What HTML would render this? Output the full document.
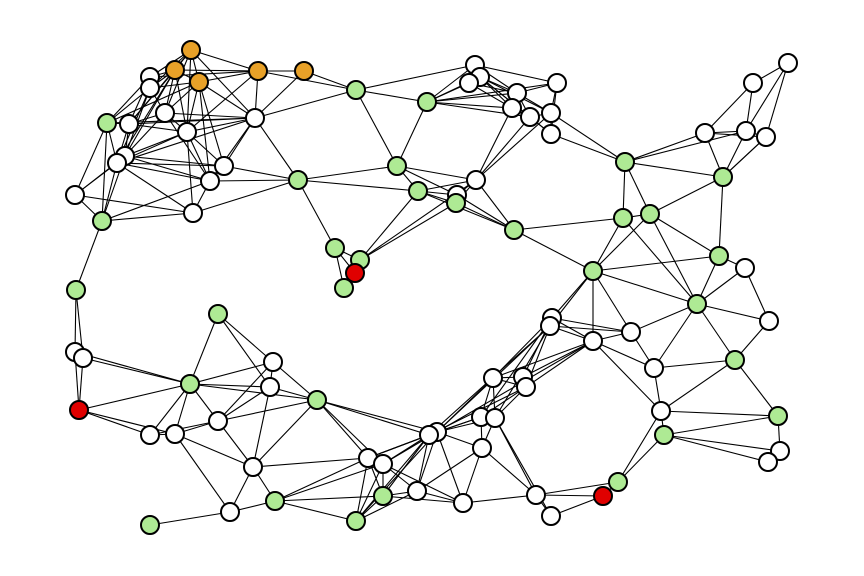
<!DOCTYPE html>
<html><head><meta charset="utf-8"><style>html,body{margin:0;padding:0;background:#fff}svg{display:block}</style></head>
<body>
<svg id="s" width="864" height="576" viewBox="0 0 864 576" xmlns="http://www.w3.org/2000/svg"><g id="e" stroke="#000" stroke-width="1.1"></g><g id="n" stroke="#000" stroke-width="2"></g></svg>
<script>
var N=[[191,50,'o'],[175,70,'o'],[199,82,'o'],[258,71,'o'],[304,71,'o'],[150,77,'w'],[150,88,'w'],[165,113,'w'],[129,124,'w'],[187,132,'w'],[255,118,'w'],[125,156,'w'],[117,163,'w'],[224,166,'w'],[210,181,'w'],[75,195,'w'],[193,213,'w'],[107,123,'g'],[102,221,'g'],[298,180,'g'],[356,90,'g'],[427,102,'g'],[397,166,'g'],[418,191,'g'],[335,248,'g'],[360,260,'g'],[355,273,'r'],[344,288,'g'],[76,290,'g'],
[475,65,'w'],[480,77,'w'],[469,83,'w'],[557,83,'w'],[517,93,'w'],[512,108,'w'],[530,117,'w'],[551,113,'w'],[551,134,'w'],[476,180,'w'],[457,195,'w'],[456,203,'g'],[514,230,'g'],[625,162,'g'],[723,177,'g'],[623,218,'g'],[650,214,'g'],[593,271,'g'],[719,256,'g'],[697,304,'g'],[788,63,'w'],[753,83,'w'],[705,133,'w'],[746,131,'w'],[766,137,'w'],[745,268,'w'],
[735,360,'g'],[778,416,'g'],[664,435,'g'],[618,482,'g'],[603,496,'r'],[769,321,'w'],[552,318,'w'],[550,326,'w'],[631,332,'w'],[593,341,'w'],[654,368,'w'],[661,411,'w'],[780,451,'w'],[768,462,'w'],[493,378,'w'],[523,377,'w'],[526,387,'w'],[481,417,'w'],[495,418,'w'],[437,432,'w'],[429,435,'w'],[482,448,'w'],[417,491,'w'],[463,503,'w'],[536,495,'w'],[551,516,'w'],
[218,314,'g'],[190,384,'g'],[317,400,'g'],[275,501,'g'],[150,525,'g'],[383,496,'g'],[356,521,'g'],[79,410,'r'],[75,352,'w'],[83,358,'w'],[273,362,'w'],[270,387,'w'],[218,421,'w'],[150,435,'w'],[175,434,'w'],[253,467,'w'],[230,512,'w'],[368,458,'w'],[383,464,'w']];
var E="0-1,0-2,0-3,0-5,0-6,0-9,0-10,0-7,0-8,1-2,1-3,1-5,1-6,1-7,1-8,1-9,1-11,1-12,2-3,2-9,2-10,2-7,2-13,2-14,2-6,2-17,3-4,3-10,3-5,3-9,3-20,4-10,4-20,5-6,5-17,5-8,6-7,6-11,6-12,6-17,7-8,7-9,7-10,7-14,7-11,8-9,8-11,8-12,8-17,8-10,9-10,9-11,9-12,9-13,9-14,9-16,10-13,10-14,10-19,10-12,10-17,10-20,11-12,11-13,11-14,11-15,11-18,12-14,12-15,12-18,12-16,12-13,13-14,13-19,14-16,14-18,14-19,15-17,15-16,15-18,16-18,16-19,17-18,17-12,18-28,19-22,19-23,19-24,20-21,20-22,20-29,21-22,21-29,21-30,21-31,21-33,21-34,21-32,21-35,22-23,22-38,22-39,23-38,23-40,23-41,23-25,23-39,24-26,24-27,24-25,25-40,25-38,25-26,26-27,29-30,29-31,29-32,29-33,30-31,30-33,30-34,30-35,30-36,30-37,31-33,31-34,32-33,32-36,32-37,33-34,33-35,33-36,34-35,34-38,35-36,35-37,35-38,36-37,36-38,37-42,36-42,38-39,38-40,38-41,39-40,39-41,40-41,41-46,41-44,42-44,42-45,42-43,42-51,42-52,43-51,43-52,43-53,43-47,43-45,44-46,44-45,44-48,45-46,45-47,45-48,46-47,46-61,46-62,46-64,46-63,46-48,47-48,47-54,48-54,48-63,48-55,48-65,49-50,49-52,49-53,50-51,50-52,51-52,51-53,52-53,53-43,48-60,55-60,55-65,55-66,55-56,54-60,56-66,56-57,56-67,57-67,57-68,57-58,57-66,66-58,66-64,66-65,58-59,59-80,59-79,58-79,63-64,63-65,63-61,63-62,64-61,64-62,64-65,64-69,64-70,64-71,64-74,61-62,61-69,61-70,61-72,62-71,62-74,62-75,62-73,69-70,69-71,69-72,69-73,69-74,70-71,71-72,71-73,71-75,72-73,72-74,72-76,72-75,73-76,73-74,73-79,73-80,74-75,74-76,74-77,74-78,74-99,74-98,75-77,75-83,75-86,75-99,75-98,76-78,76-79,76-77,77-78,77-86,77-99,78-79,79-80,75-87,74-87,28-89,28-90,89-90,89-88,90-88,90-82,89-82,88-82,88-94,88-95,81-82,81-91,81-92,82-91,82-92,82-83,82-93,82-94,82-95,91-92,91-83,91-93,92-83,92-93,92-96,93-96,93-95,93-94,93-83,94-95,95-96,95-97,96-97,96-84,96-83,96-98,83-98,83-99,83-74,97-84,97-85,84-86,84-87,84-99,84-98,86-87,87-98,87-99,87-77,86-99,86-98,98-99,98-74,99-78,86-78";
var ns="http://www.w3.org/2000/svg",eg=document.getElementById('e'),ng=document.getElementById('n');
E.split(',').forEach(function(p){var a=p.split('-'),A=N[+a[0]],B=N[+a[1]];var l=document.createElementNS(ns,'line');l.setAttribute('x1',A[0]);l.setAttribute('y1',A[1]);l.setAttribute('x2',B[0]);l.setAttribute('y2',B[1]);eg.appendChild(l);});
var C={o:'#e8a128',w:'#ffffff',g:'#aeea94',r:'#e00000'};
N.forEach(function(d){var c=document.createElementNS(ns,'circle');c.setAttribute('cx',d[0]);c.setAttribute('cy',d[1]);c.setAttribute('r',9);c.setAttribute('fill',C[d[2]]);ng.appendChild(c);});
</script>
</body></html>
